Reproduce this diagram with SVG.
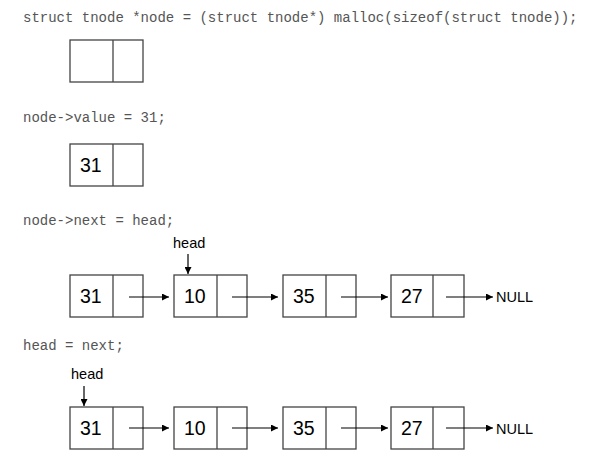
<svg xmlns="http://www.w3.org/2000/svg" width="595" height="469" viewBox="0 0 595 469">
<style>
.code{font-family:"Liberation Mono","Courier New",monospace;font-size:14px;fill:#555}
.lbl{font-family:"Liberation Sans",Arial,sans-serif;font-size:14.5px;fill:#000}
.val{font-family:"Liberation Sans",Arial,sans-serif;font-size:19.5px;fill:#000}
.box{fill:#fff;stroke:#444;stroke-width:1.3}
.div{stroke:#444;stroke-width:1.3}
.arr{stroke:#000;stroke-width:1.2;fill:none;marker-end:url(#ah)}
</style>
<defs>
<marker id="ah" viewBox="0 0 10 10" refX="10" refY="5" markerWidth="8" markerHeight="7" markerUnits="userSpaceOnUse" orient="auto">
<path d="M0,0 L10,5 L0,10 z" fill="#000"/>
</marker>
</defs>
<rect width="595" height="469" fill="#fff"/>
<text class="code" x="23" y="22">struct tnode *node = (struct tnode*) malloc(sizeof(struct tnode));</text>
<text class="code" x="23" y="122">node-&gt;value = 31;</text>
<text class="code" x="23" y="225">node-&gt;next = head;</text>
<text class="code" x="23" y="350">head = next;</text>

<g id="node-a1"><rect class="box" x="70" y="40" width="73" height="42"/><line class="div" x1="113" y1="40" x2="113" y2="82"/></g>
<g id="node-b1"><rect class="box" x="70" y="144" width="73" height="42"/><line class="div" x1="113" y1="144" x2="113" y2="186"/><text class="val" x="80" y="172">31</text></g>

<g id="node-c1"><rect class="box" x="70" y="275" width="73" height="42"/><line class="div" x1="113" y1="275" x2="113" y2="317"/><text class="val" x="80" y="303">31</text></g>
<g id="node-c2"><rect class="box" x="174" y="275" width="73" height="42"/><line class="div" x1="217" y1="275" x2="217" y2="317"/><text class="val" x="184" y="303">10</text></g>
<g id="node-c3"><rect class="box" x="283" y="275" width="73" height="42"/><line class="div" x1="326" y1="275" x2="326" y2="317"/><text class="val" x="293" y="303">35</text></g>
<g id="node-c4"><rect class="box" x="391" y="275" width="73" height="42"/><line class="div" x1="433" y1="275" x2="433" y2="317"/><text class="val" x="401" y="303">27</text></g>
<g id="null-c"><text class="lbl" x="496" y="302">NULL</text></g>
<g id="head-c"><text class="lbl" x="173" y="248">head</text></g>

<g id="node-d1"><rect class="box" x="70" y="407" width="73" height="42"/><line class="div" x1="113" y1="407" x2="113" y2="449"/><text class="val" x="80" y="435">31</text></g>
<g id="node-d2"><rect class="box" x="174" y="407" width="73" height="42"/><line class="div" x1="217" y1="407" x2="217" y2="449"/><text class="val" x="184" y="435">10</text></g>
<g id="node-d3"><rect class="box" x="283" y="407" width="73" height="42"/><line class="div" x1="326" y1="407" x2="326" y2="449"/><text class="val" x="293" y="435">35</text></g>
<g id="node-d4"><rect class="box" x="391" y="407" width="73" height="42"/><line class="div" x1="433" y1="407" x2="433" y2="449"/><text class="val" x="401" y="435">27</text></g>
<g id="null-d"><text class="lbl" x="496" y="434">NULL</text></g>
<g id="head-d"><text class="lbl" x="71" y="379">head</text></g>

<g id="connectors">
<line class="arr" x1="129" y1="297" x2="169" y2="297"/>
<line class="arr" x1="232" y1="297" x2="278" y2="297"/>
<line class="arr" x1="341" y1="297" x2="388" y2="297"/>
<line class="arr" x1="446" y1="297" x2="493" y2="297"/>
<line class="arr" x1="188" y1="254" x2="188" y2="274"/>
<line class="arr" x1="129" y1="428" x2="169" y2="428"/>
<line class="arr" x1="232" y1="428" x2="278" y2="428"/>
<line class="arr" x1="341" y1="428" x2="388" y2="428"/>
<line class="arr" x1="446" y1="428" x2="493" y2="428"/>
<line class="arr" x1="84" y1="386" x2="84" y2="406"/>
</g>
</svg>
